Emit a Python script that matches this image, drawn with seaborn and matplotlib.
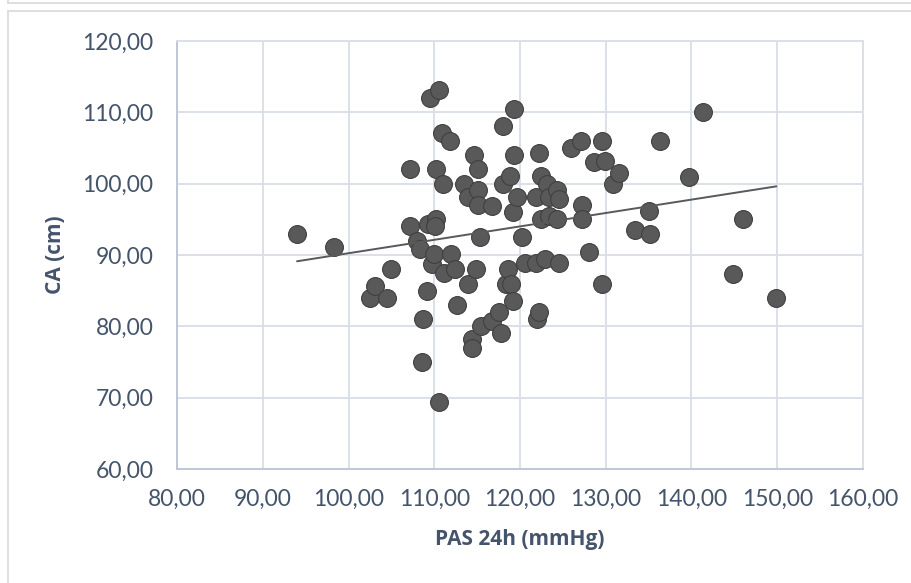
import matplotlib
matplotlib.use("Agg")
import matplotlib.pyplot as plt
import seaborn as sns
import numpy as np
import pandas as pd
from matplotlib.lines import Line2D
from matplotlib.ticker import FuncFormatter, MultipleLocator

pas_24h = [94.0, 98.3, 102.5, 103.1, 104.5, 104.9, 107.2, 107.2, 108.0, 108.3,
           108.7, 108.6, 109.1, 109.5, 110.5, 109.3, 110.2, 110.1, 109.7, 110.0,
           110.2, 110.5, 110.9, 111.0, 111.1, 111.8, 112.0, 112.4, 112.6, 113.5,
           113.9, 113.9, 114.4, 114.4, 114.6, 114.9, 115.1, 115.1, 115.1, 115.3,
           115.5, 116.7, 116.7, 117.5, 117.8, 118.0, 118.0, 118.4, 118.6, 118.8,
           118.9, 119.2, 119.3, 119.3, 119.2, 119.6, 120.2, 120.6, 121.9, 121.9,
           122.0, 122.2, 122.2, 122.5, 122.5, 122.9, 123.1, 123.4, 123.4, 124.3,
           124.3, 124.5, 124.5, 126.0, 127.1, 127.2, 127.2, 128.1, 128.6, 129.6,
           129.6, 129.9, 130.9, 131.5, 133.4, 135.1, 135.2, 136.3, 139.7, 141.3,
           144.8, 146.0, 149.9]
ca_cm = [93.0, 91.1, 84.0, 85.6, 84.0, 88.0, 102.1, 94.1, 92.0, 90.9,
         81.0, 75.0, 85.0, 112.0, 113.1, 94.3, 95.1, 94.0, 88.7, 90.1,
         102.0, 69.4, 107.1, 100.0, 87.5, 106.0, 90.1, 88.0, 83.0, 100.0,
         98.1, 86.0, 78.2, 76.9, 104.0, 88.0, 99.1, 97.0, 102.0, 92.5,
         80.0, 80.7, 96.8, 82.0, 79.0, 108.1, 100.0, 86.0, 88.0, 101.1,
         86.0, 96.0, 104.0, 110.4, 83.5, 98.1, 92.5, 88.9, 98.1, 88.9,
         81.0, 82.0, 104.3, 101.1, 95.0, 89.4, 100.0, 95.4, 98.1, 95.0,
         99.1, 97.8, 88.9, 105.0, 106.0, 97.0, 95.0, 90.4, 103.1, 106.0,
         86.0, 103.2, 100.0, 101.5, 93.5, 96.1, 93.0, 106.0, 101.0, 110.0,
         87.3, 95.0, 84.0]

x_label = "PAS 24h (mmHg)"
y_label = "CA (cm)"

df = pd.DataFrame({"pas": pas_24h, "ca": ca_cm})

sns.set_theme(style="white")
plt.rcParams["font.family"] = ["Lato", "DejaVu Sans"]

text_color = "#44546a"
grid_color = "#d9dee7"

fig = plt.figure(figsize=(9.12, 5.83), dpi=100)
ax = fig.add_axes([177/912, 1 - 469/583, (863-177)/912, (469-41)/583])

sns.scatterplot(data=df, x="pas", y="ca", ax=ax, s=165, color="#595959",
                edgecolor="#404040", linewidth=0.8, zorder=3)
sns.regplot(data=df, x="pas", y="ca", ax=ax, scatter=False, ci=None,
            line_kws={"color": "#595959", "linewidth": 1.4, "zorder": 4})

ax.set_xlim(80, 160)
ax.set_ylim(60, 120)
ax.xaxis.set_major_locator(MultipleLocator(10))
ax.yaxis.set_major_locator(MultipleLocator(10))
fmt = FuncFormatter(lambda v, p: f"{v:.2f}".replace(".", ","))
ax.xaxis.set_major_formatter(fmt)
ax.yaxis.set_major_formatter(fmt)
ax.grid(True, color=grid_color, linewidth=1.3)
ax.set_axisbelow(True)
for side in ["top", "right"]:
    ax.spines[side].set_color(grid_color)
    ax.spines[side].set_linewidth(1.3)
for side in ["left", "bottom"]:
    ax.spines[side].set_color("#bcc4d2")
    ax.spines[side].set_linewidth(1.3)
ax.tick_params(axis="both", length=0, labelsize=16.5, labelcolor=text_color)
ax.tick_params(axis="y", pad=17)
ax.tick_params(axis="x", pad=14)

label_font = {"family": ["Open Sans", "DejaVu Sans"], "size": 15, "weight": "bold"}
ax.set_xlabel(x_label, fontdict=label_font, color=text_color, labelpad=14)
ax.set_ylabel(y_label, fontdict=label_font, color=text_color, labelpad=12)

frame_color = "#d9d9d9"
fig.add_artist(Line2D([8/912, 8/912], [0, 1 - 11/583], transform=fig.transFigure, color=frame_color, lw=1.2))
fig.add_artist(Line2D([8/912, 1], [1 - 11/583, 1 - 11/583], transform=fig.transFigure, color=frame_color, lw=1.2))
fig.add_artist(Line2D([8/912, 1], [1 - 3/583, 1 - 3/583], transform=fig.transFigure, color=frame_color, lw=1.2))
fig.add_artist(Line2D([8/912, 8/912], [1 - 3/583, 1], transform=fig.transFigure, color=frame_color, lw=1.2))

fig.savefig("out.png", dpi=100, facecolor="white")
